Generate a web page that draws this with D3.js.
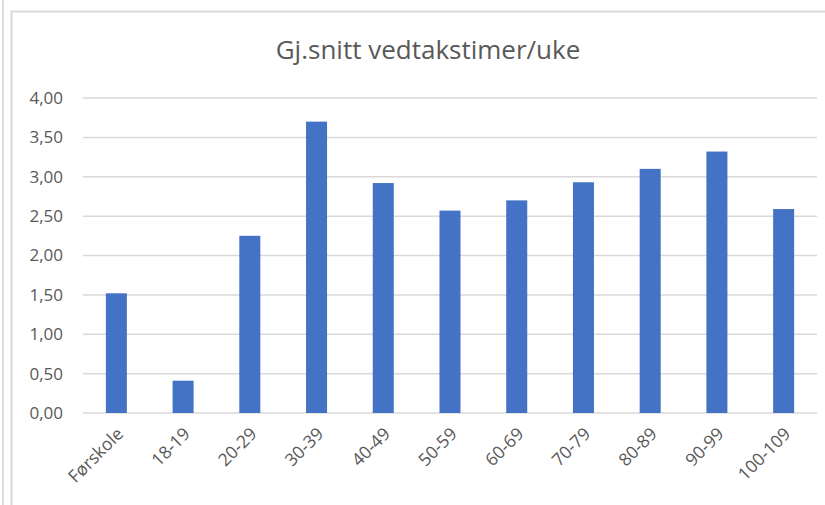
<!DOCTYPE html>
<html>
<head>
<meta charset="utf-8">
<script src="https://cdn.jsdelivr.net/npm/d3@7"></script>
<style>
  body { margin: 0; background: #fff; }
  svg { display: block; font-family: "Open Sans", "Noto Sans", sans-serif; }
</style>
</head>
<body>
<svg id="chart" width="825" height="505"></svg>
<script>
const categories = ['Førskole', '18-19', '20-29', '30-39', '40-49', '50-59', '60-69', '70-79', '80-89', '90-99', '100-109'];
const values = [1.52, 0.41, 2.25, 3.70, 2.92, 2.57, 2.70, 2.93, 3.10, 3.32, 2.59];
const yTicks = [0, 0.5, 1, 1.5, 2, 2.5, 3, 3.5, 4];
const title = 'Gj.snitt vedtakstimer/uke';

const svg = d3.select('#chart');
const margin = {top: 98, right: 8, bottom: 92, left: 83};
const width = 825, height = 505;

// outer frames (screenshot edges)
svg.append('line').attr('x1', 3).attr('x2', 3).attr('y1', 0).attr('y2', height)
    .attr('stroke', '#dcdcdc').attr('stroke-width', 2);
svg.append('rect').attr('x', 11.5).attr('y', 11.5).attr('width', 830).attr('height', 520)
    .attr('fill', 'none').attr('stroke', '#d9d9d9').attr('stroke-width', 2);

const x = d3.scaleBand()
    .domain(categories)
    .range([margin.left, width - margin.right]);

const y = d3.scaleLinear()
    .domain([0, 4])
    .range([height - margin.bottom, margin.top]);

// gridlines
svg.append('g')
    .selectAll('line')
    .data(yTicks)
    .join('line')
    .attr('x1', margin.left)
    .attr('x2', width - margin.right)
    .attr('y1', d => y(d))
    .attr('y2', d => y(d))
    .attr('stroke', '#d9d9d9')
    .attr('stroke-width', 1.5);

// y labels
const fmt = d => d3.format('.2f')(d).replace('.', ',');
svg.append('g')
    .selectAll('text')
    .data(yTicks)
    .join('text')
    .attr('x', 63)
    .attr('y', d => y(d))
    .attr('dy', '0.35em')
    .attr('text-anchor', 'end')
    .attr('fill', '#595959')
    .attr('font-size', 17)
    .text(fmt);

// bars
const barW = x.bandwidth() * 0.315;
svg.append('g')
    .selectAll('rect')
    .data(values)
    .join('rect')
    .attr('x', (d, i) => x(categories[i]) + x.bandwidth() / 2 - barW / 2)
    .attr('y', d => y(d))
    .attr('width', barW)
    .attr('height', d => y(0) - y(d))
    .attr('fill', '#4472c4');

// x labels
svg.append('g')
    .selectAll('text')
    .data(categories)
    .join('text')
    .attr('transform', d => `translate(${x(d) + x.bandwidth() / 2 + 8},${y(0) + 22}) rotate(-45)`)
    .attr('text-anchor', 'end')
    .attr('fill', '#595959')
    .attr('font-size', 17.5)
    .text(d => d);

// title
svg.append('text')
    .attr('x', 428)
    .attr('y', 59)
    .attr('text-anchor', 'middle')
    .attr('fill', '#595959')
    .attr('font-size', 26)
    .text(title);
</script>
</body>
</html>
